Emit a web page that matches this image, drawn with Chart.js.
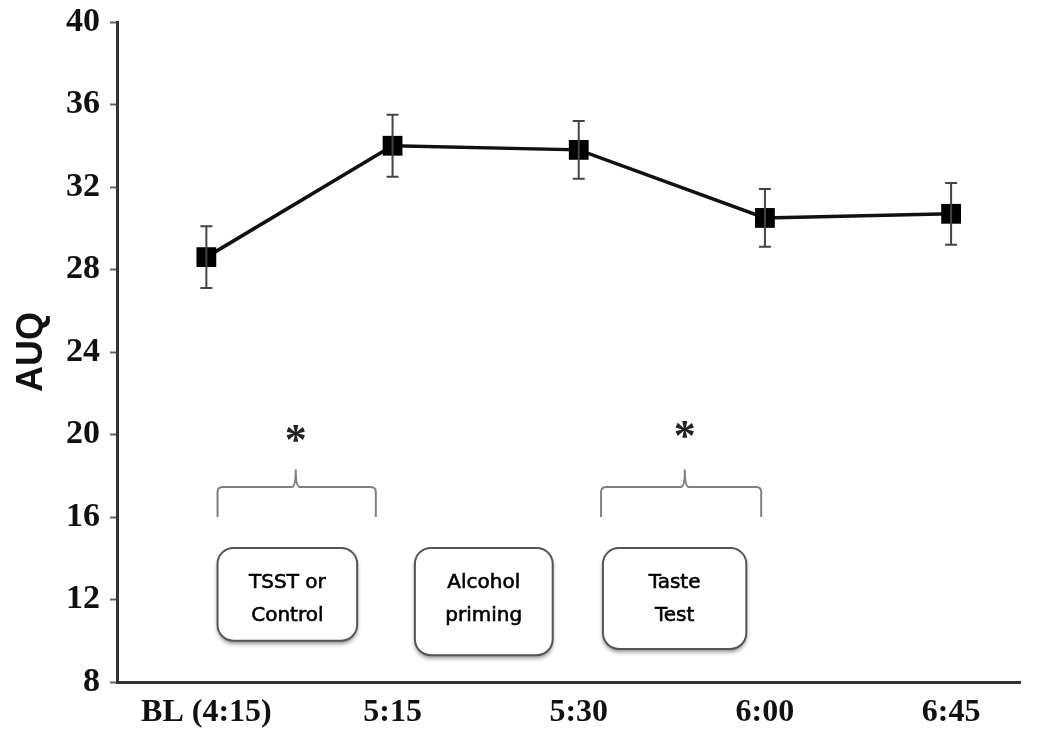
<!DOCTYPE html>
<html>
<head>
<meta charset="utf-8">
<script src="https://cdn.jsdelivr.net/npm/chart.js@4/dist/chart.umd.min.js"></script>
<style>
  html, body { margin: 0; padding: 0; background: #fff; }
  #wrap { width: 1050px; height: 732px; }
</style>
</head>
<body>
<div id="wrap"><canvas id="lineChart" width="1050" height="732"></canvas></div>
<script>
var categories = ["BL (4:15)", "5:15", "5:30", "6:00", "6:45"];
var auqMeans = [28.6, 34.0, 33.8, 30.5, 30.7];
var auqErrors = [1.5, 1.5, 1.4, 1.4, 1.5];
var yTicks = [8, 12, 16, 20, 24, 28, 32, 36, 40];

// phase annotations (in axis units: x = category index, y = AUQ)
var phaseBoxes = [
  { x0: 0.06, x1: 0.81, y0: 14.5, y1: 10.0, lines: ["TSST or", "Control"] },
  { x0: 1.12, x1: 1.86, y0: 14.5, y1: 9.3, lines: ["Alcohol", "priming"] },
  { x0: 2.13, x1: 2.90, y0: 14.5, y1: 9.6, lines: ["Taste", "Test"] },
];
var braces = [
  { x0: 0.06, x1: 0.91, peak: 0.48, yTop: 18.3, yMid: 17.45, yEnd: 16.0, star: 20.2 },
  { x0: 2.12, x1: 2.98, peak: 2.57, yTop: 18.3, yMid: 17.45, yEnd: 16.0, star: 20.4 },
];

var points = auqMeans.map(function (v, i) { return { x: i, y: v }; });

var errorBars = {
  id: "errorBars",
  afterDatasetsDraw: function (chart) {
    var ctx = chart.ctx, xs = chart.scales.x, ys = chart.scales.y;
    ctx.save();
    ctx.strokeStyle = "#444";
    ctx.lineWidth = 2;
    auqMeans.forEach(function (v, i) {
      var px = xs.getPixelForValue(i);
      var top = ys.getPixelForValue(v + auqErrors[i]);
      var bot = ys.getPixelForValue(v - auqErrors[i]);
      ctx.beginPath();
      ctx.moveTo(px, top); ctx.lineTo(px, bot);
      ctx.moveTo(px - 6, top); ctx.lineTo(px + 6, top);
      ctx.moveTo(px - 6, bot); ctx.lineTo(px + 6, bot);
      ctx.stroke();
    });
    ctx.restore();
  }
};

var phases = {
  id: "phases",
  afterDatasetsDraw: function (chart) {
    var ctx = chart.ctx, xs = chart.scales.x, ys = chart.scales.y;
    ctx.save();
    // braces + stars
    braces.forEach(function (b) {
      var l = xs.getPixelForValue(b.x0), r = xs.getPixelForValue(b.x1), p = xs.getPixelForValue(b.peak);
      var yt = ys.getPixelForValue(b.yTop), ym = ys.getPixelForValue(b.yMid), ye = ys.getPixelForValue(b.yEnd);
      ctx.strokeStyle = "#808080";
      ctx.lineWidth = 2;
      ctx.beginPath();
      ctx.moveTo(l, ye);
      ctx.lineTo(l, ym + 5);
      ctx.quadraticCurveTo(l, ym, l + 5, ym);
      ctx.lineTo(p - 4, ym);
      ctx.quadraticCurveTo(p, ym, p, yt);
      ctx.quadraticCurveTo(p, ym, p + 4, ym);
      ctx.lineTo(r - 5, ym);
      ctx.quadraticCurveTo(r, ym, r, ym + 5);
      ctx.lineTo(r, ye);
      ctx.stroke();
      ctx.fillStyle = "#222";
      ctx.font = "bold 44px 'Liberation Serif'";
      ctx.textAlign = "center";
      ctx.textBaseline = "middle";
      ctx.fillText("*", p, ys.getPixelForValue(b.star) + 12);
    });
    // boxes
    phaseBoxes.forEach(function (b) {
      var l = xs.getPixelForValue(b.x0), r = xs.getPixelForValue(b.x1);
      var t = ys.getPixelForValue(b.y0), bt = ys.getPixelForValue(b.y1);
      ctx.save();
      ctx.shadowColor = "rgba(0,0,0,0.45)";
      ctx.shadowBlur = 4;
      ctx.shadowOffsetY = 3;
      ctx.fillStyle = "#fff";
      ctx.beginPath();
      ctx.roundRect(l, t, r - l, bt - t, 16);
      ctx.fill();
      ctx.restore();
      ctx.strokeStyle = "#555";
      ctx.lineWidth = 2;
      ctx.beginPath();
      ctx.roundRect(l, t, r - l, bt - t, 16);
      ctx.stroke();
      ctx.fillStyle = "#000";
      ctx.strokeStyle = "#000";
      ctx.lineWidth = 0.6;
      ctx.font = "20px 'DejaVu Sans'";
      ctx.textAlign = "center";
      ctx.textBaseline = "middle";
      var cx = (l + r) / 2;
      ctx.fillText(b.lines[0], cx, t + 35);
      ctx.strokeText(b.lines[0], cx, t + 35);
      ctx.fillText(b.lines[1], cx, t + 68);
      ctx.strokeText(b.lines[1], cx, t + 68);
    });
    ctx.restore();
  }
};

var ctx = document.getElementById("lineChart").getContext("2d");
var myChart = new Chart(ctx, {
  type: "line",
  data: {
    datasets: [
      {
        label: "AUQ",
        data: points,
        borderColor: "#111",
        backgroundColor: "#000",
        borderWidth: 3.5,
        pointStyle: "rect",
        pointRadius: 14,
        pointBorderWidth: 0,
        tension: 0,
      },
    ],
  },
  options: {
    responsive: false,
    animation: false,
    layout: { padding: { top: 0, right: 30, left: 10, bottom: 0 } },
    plugins: { legend: { display: false }, tooltip: { enabled: false } },
    scales: {
      x: {
        type: "linear",
        min: -0.48,
        max: 4.37,
        afterBuildTicks: function (axis) {
          axis.ticks = categories.map(function (c, i) { return { value: i }; });
        },
        afterFit: function (axis) { axis.height = 50; },
        ticks: {
          callback: function (v) { return categories[v]; },
          color: "#111",
          font: { family: "'Liberation Serif'", size: 32, weight: "bold" },
          padding: 12,
          maxRotation: 0,
        },
        grid: { display: false, drawTicks: false },
        border: { color: "#333", width: 3 },
      },
      y: {
        min: 8,
        max: 40,
        afterBuildTicks: function (axis) {
          axis.ticks = yTicks.map(function (v) { return { value: v }; });
        },
        afterFit: function (axis) { axis.width = 107; axis.paddingTop = 22; },
        ticks: {
          color: "#111",
          font: { family: "'Liberation Serif'", size: 34, weight: "bold" },
          padding: 10,
        },
        grid: { display: true, drawOnChartArea: false, drawTicks: true, tickLength: 7, tickColor: "#666", tickWidth: 2 },
        border: { color: "#333", width: 3 },
        title: {
          display: true,
          text: "AUQ",
          color: "#111",
          font: { family: "'Liberation Sans'", size: 36, weight: "bold" },
          padding: { top: 0, bottom: 0 },
        },
      },
    },
  },
  plugins: [errorBars, phases],
});
</script>
</body>
</html>
